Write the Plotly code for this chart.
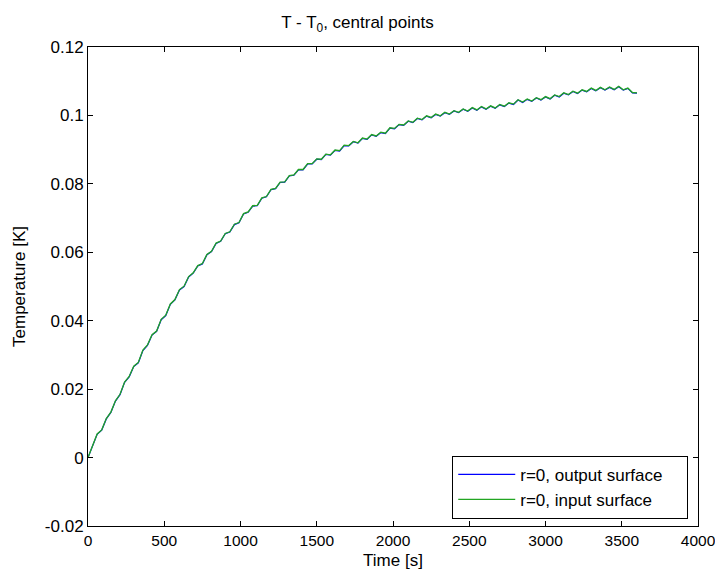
import plotly.graph_objects as go

# time samples [s]
time_s = list(range(0, 3601, 30))

# r=0, input surface (green)
input_surface = [
    0.0, 0.0036, 0.0069, 0.0081, 0.0114, 0.0133, 0.0166, 0.0185, 0.0221, 0.0237,
    0.0267, 0.0278, 0.0314, 0.0329, 0.0359, 0.0370, 0.0404, 0.0416, 0.0449, 0.0462,
    0.0491, 0.0501, 0.0529, 0.0540, 0.0561, 0.0567, 0.0594, 0.0603, 0.0627, 0.0633,
    0.0655, 0.0660, 0.0682, 0.0687, 0.0713, 0.0718, 0.0736, 0.0737, 0.0759, 0.0763,
    0.0784, 0.0787, 0.0805, 0.0806, 0.0824, 0.0826, 0.0842, 0.0842, 0.0859, 0.0859,
    0.0873, 0.0872, 0.0887, 0.0885, 0.0899, 0.0897, 0.0913, 0.0912, 0.0924, 0.0920,
    0.0934, 0.0931, 0.0944, 0.0940, 0.0951, 0.0948, 0.0964, 0.0962, 0.0974, 0.0972,
    0.0984, 0.0980, 0.0992, 0.0988, 0.0999, 0.0994, 0.1004, 0.0999, 0.1009, 0.1004,
    0.1014, 0.1009, 0.1019, 0.1013, 0.1023, 0.1016, 0.1026, 0.1019, 0.1028, 0.1022,
    0.1032, 0.1027, 0.1037, 0.1033, 0.1046, 0.1039, 0.1048, 0.1042, 0.1052, 0.1046,
    0.1055, 0.1049, 0.1060, 0.1055, 0.1066, 0.1061, 0.1071, 0.1065, 0.1075, 0.1070,
    0.1080, 0.1073, 0.1082, 0.1075, 0.1083, 0.1076, 0.1085, 0.1075, 0.1080, 0.1067,
    0.1066,
]

# r=0, output surface (blue) - nearly identical
output_surface = [
    0.0, 0.0035, 0.0068, 0.0080, 0.0113, 0.0132, 0.0165, 0.0184, 0.0220, 0.0236,
    0.0266, 0.0277, 0.0313, 0.0328, 0.0358, 0.0369, 0.0403, 0.0415, 0.0448, 0.0461,
    0.0490, 0.0500, 0.0528, 0.0539, 0.0560, 0.0566, 0.0593, 0.0602, 0.0626, 0.0632,
    0.0654, 0.0659, 0.0681, 0.0686, 0.0712, 0.0717, 0.0735, 0.0736, 0.0758, 0.0762,
    0.0783, 0.0786, 0.0804, 0.0805, 0.0823, 0.0825, 0.0841, 0.0841, 0.0858, 0.0858,
    0.0872, 0.0871, 0.0886, 0.0884, 0.0898, 0.0896, 0.0912, 0.0911, 0.0923, 0.0919,
    0.0933, 0.0930, 0.0943, 0.0939, 0.0950, 0.0947, 0.0963, 0.0961, 0.0973, 0.0971,
    0.0983, 0.0979, 0.0991, 0.0987, 0.0998, 0.0993, 0.1003, 0.0998, 0.1008, 0.1003,
    0.1013, 0.1008, 0.1018, 0.1012, 0.1022, 0.1015, 0.1025, 0.1018, 0.1027, 0.1021,
    0.1031, 0.1026, 0.1036, 0.1032, 0.1045, 0.1038, 0.1047, 0.1041, 0.1051, 0.1045,
    0.1054, 0.1048, 0.1059, 0.1054, 0.1065, 0.1060, 0.1070, 0.1064, 0.1074, 0.1069,
    0.1079, 0.1072, 0.1081, 0.1074, 0.1082, 0.1075, 0.1084, 0.1074, 0.1079, 0.1066,
    0.1065,
]

series_names = ["r=0, output surface", "r=0, input surface"]

x_ticks = [0, 500, 1000, 1500, 2000, 2500, 3000, 3500, 4000]
x_ticktext = ["0", "500", "1000", "1500", "2000", "2500", "3000", "3500", "4000"]
y_ticks = [-0.02, 0, 0.02, 0.04, 0.06, 0.08, 0.1, 0.12]
y_ticktext = ["-0.02", "0", "0.02", "0.04", "0.06", "0.08", "0.1", "0.12"]

font_family = "Liberation Sans, Arial, sans-serif"
fs = 17
pad = "\u00a0" * 4

fig = go.Figure()
fig.add_trace(go.Scatter(x=time_s, y=output_surface, mode="lines",
                         name=series_names[0] + pad,
                         line=dict(color="#0000ff", width=1.2)))
fig.add_trace(go.Scatter(x=time_s, y=input_surface, mode="lines",
                         name=series_names[1] + pad,
                         line=dict(color="#22a522", width=1.3)))

axis_common = dict(showgrid=False, zeroline=False, showline=True, linecolor="#000000",
                   linewidth=1, mirror="ticks", ticks="inside", ticklen=5,
                   tickcolor="#000000", automargin=False, ticklabeloverflow="allow")

fig.update_layout(
    width=715, height=576,
    paper_bgcolor="white", plot_bgcolor="white",
    margin=dict(l=88, r=17, t=47, b=50),
    title=dict(text="T - T<sub>0</sub>, central points", x=0.5, xanchor="center",
               yref="container", y=1 - 22 / 576, yanchor="middle",
               font=dict(family=font_family, size=fs, color="#000000")),
    xaxis=dict(range=[0, 4000], tickvals=x_ticks, ticktext=x_ticktext,
               tickfont=dict(family=font_family, size=15.5, color="#000000"),
               title=dict(text="Time [s]", standoff=6,
                          font=dict(family=font_family, size=fs, color="#000000")),
               **axis_common),
    yaxis=dict(range=[-0.02, 0.12], tickvals=y_ticks, ticktext=y_ticktext,
               tickfont=dict(family=font_family, size=fs, color="#000000"),
               title=dict(text="Temperature [K]", standoff=14,
                          font=dict(family=font_family, size=fs, color="#000000")),
               **axis_common),
    legend=dict(x=0.984, y=0.015, xanchor="right", yanchor="bottom",
                bgcolor="white", bordercolor="#000000", borderwidth=1,
                font=dict(family=font_family, size=fs, color="#000000"),
                tracegroupgap=0, itemwidth=57),
    showlegend=True,
)

fig.write_html("out.html", config={"displayModeBar": False},
               post_script="document.body.style.margin='0px';document.body.style.overflow='hidden';")
